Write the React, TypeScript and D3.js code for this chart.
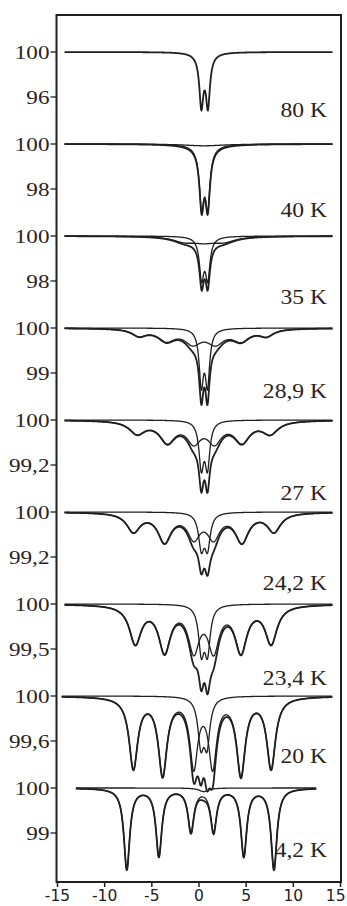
import React, { useRef, useEffect } from 'react';
import * as d3 from 'd3';

// one Mössbauer spectrum per temperature, top to bottom
const temperatures = ['80 K', '40 K', '35 K', '28,9 K', '27 K', '24,2 K', '23,4 K', '20 K', '4,2 K'];

// the lower labelled tick of each spectrum (the upper one is always 100)
const lowerTicks = [96, 98, 98, 99, 99.2, 99.2, 99.5, 99.6, 99];
const lowerTickLabels = ['96', '98', '98', '99', '99,2', '99,2', '99,5', '99,6', '99'];

// measured velocity range of each spectrum, mm/s
const velocityRanges: [number, number][] = [
  [-14.2, 14.2], [-14.2, 14.2], [-14.2, 14.2], [-14.2, 14.2], [-14.2, 14.2],
  [-14.2, 14.2], [-14.2, 14.2], [-14.5, 14.2], [-13, 12.5]
];

// paramagnetic doublet: [position mm/s, depth %, FWHM mm/s]
const doubletLines: [number, number, number][][] = [
  [[0.3, 4.3, 0.5], [1.0, 4.3, 0.5], [0.65, 0.5, 1.6]],
  [[0.33, 2.4, 0.55], [0.98, 2.4, 0.55], [0.65, 0.35, 1.6]],
  [[0.33, 1.7, 0.55], [0.98, 1.7, 0.55], [0.65, 0.15, 1.4]],
  [[0.3, 1.2, 0.55], [0.95, 1.2, 0.55]],
  [[0.3, 0.8, 0.6], [0.95, 0.8, 0.6]],
  [[0.3, 0.6, 0.7], [0.95, 0.6, 0.7]],
  [[0.3, 0.5, 0.7], [0.95, 0.5, 0.7]],
  [[0.25, 0.4, 0.75], [0.9, 0.4, 0.75]],
  [[0.55, 0.08, 1.2]]
];

// magnetic (relaxation / sextet) part: [position mm/s, depth %, FWHM mm/s]
const magneticLines: [number, number, number][][] = [
  [],
  [[0.6, 0.08, 5]],
  [[-1.5, 0.22, 3], [0.6, 0.2, 3], [2.7, 0.22, 3]],
  [[-6.3, 0.15, 1.8], [-3.4, 0.25, 2.2], [-0.6, 0.3, 2.2], [1.8, 0.3, 2.2], [4.5, 0.25, 2.2], [7.2, 0.15, 1.8]],
  [[-6.5, 0.22, 2.0], [-3.3, 0.36, 2.0], [-0.5, 0.35, 1.8], [1.7, 0.35, 1.8], [4.6, 0.36, 2.0], [7.6, 0.22, 2.0]],
  [[-6.9, 0.33, 1.7], [-3.6, 0.5, 1.7], [-0.5, 0.42, 1.6], [1.6, 0.42, 1.6], [4.6, 0.5, 1.7], [8.0, 0.33, 1.7]],
  [[-6.7, 0.42, 1.5], [-3.6, 0.5, 1.5], [-0.5, 0.48, 1.4], [1.6, 0.48, 1.4], [4.5, 0.5, 1.5], [7.7, 0.42, 1.5]],
  [[-6.9, 0.63, 1.1], [-3.8, 0.68, 1.1], [-0.5, 0.6, 1.0], [1.5, 0.6, 1.0], [4.5, 0.68, 1.1], [7.7, 0.63, 1.1]],
  [[-7.6, 1.8, 0.75], [-4.2, 1.5, 0.75], [-0.8, 0.95, 0.75], [1.6, 0.95, 0.75], [4.8, 1.5, 0.75], [8.0, 1.8, 0.75]]
];

const velocityTicks = [-15, -10, -5, 0, 5, 10, 15];

const width = 347;
const height = 906;
// how far each temperature label sits below its 100 line
const labelDrop = [65, 73, 68, 70, 80, 78, 81, 67, 69];

// sum of lorentzian absorption lines at velocity v
function absorption(lines: [number, number, number][], v: number) {
  return d3.sum(lines, ([c, a, w]) => a / (1 + ((v - c) / (w / 2)) ** 2));
}

export default function App() {
  const svgRef = useRef<SVGSVGElement>(null);

  useEffect(() => {
    const svg = d3.select(svgRef.current);
    svg.selectAll('*').remove();

    const frame = { left: 56.5, right: 341, top: 15, bottom: 882 };
    const ink = '#1f1f1f';
    const serif = '"Liberation Serif", "Times New Roman", serif';

    const x = d3.scaleLinear().domain([-15, 15]).range([57, 340]);
    const panelY = d3.scalePoint<string>().domain(temperatures).range([52, 788]);
    const tickGap = 45;

    const root = svg.attr('width', width).attr('height', height).append('g');

    temperatures.forEach((t, i) => {
      const y0 = panelY(t) as number;
      const y = d3.scaleLinear().domain([100, lowerTicks[i]]).range([y0, y0 + tickGap]);
      const [vMin, vMax] = velocityRanges[i];
      const vs = d3.range(vMin, vMax + 0.001, 0.04);

      const line = d3.line<number>()
        .x(v => x(v))
        .y(v => y(v));

      const dbl = doubletLines[i];
      const mag = magneticLines[i];
      const curves: { f: (v: number) => number; w: number }[] = [];
      if (mag.length) {
        curves.push({ f: v => 100 - absorption(mag, v), w: 1.3 });
        curves.push({ f: v => 100 - absorption(dbl, v), w: 1.3 });
      }
      curves.push({ f: v => 100 - absorption(dbl, v) - absorption(mag, v), w: 1.8 });

      const g = root.append('g');
      curves.forEach(c => {
        g.append('path')
          .attr('d', line.y(v => y(c.f(v)))(vs))
          .attr('fill', 'none')
          .attr('stroke', ink)
          .attr('stroke-width', c.w)
          .attr('stroke-linejoin', 'round');
      });

      // y ticks of this spectrum
      const yt = [100, lowerTicks[i]];
      const labels = ['100', lowerTickLabels[i]];
      yt.forEach((val, k) => {
        root.append('line')
          .attr('x1', frame.left - 6).attr('x2', frame.left)
          .attr('y1', y(val)).attr('y2', y(val))
          .attr('stroke', ink).attr('stroke-width', 1.3);
        root.append('text')
          .attr('transform', `translate(${frame.left - 7},${y(val)}) scale(1.22,1)`)
          .attr('text-anchor', 'end')
          .attr('dy', '0.35em')
          .attr('font-family', serif)
          .attr('font-size', 19)
          .attr('fill', '#2a231c')
          .text(labels[k]);
      });

      root.append('text')
        .attr('transform', `translate(327,${y0 + labelDrop[i]}) scale(1.15,1)`)
        .attr('text-anchor', 'end')
        .attr('font-family', serif)
        .attr('font-size', 20.5)
        .attr('fill', '#2a231c')
        .text(t);
    });

    // frame
    root.append('rect')
      .attr('x', frame.left).attr('y', frame.top)
      .attr('width', frame.right - frame.left).attr('height', frame.bottom - frame.top)
      .attr('fill', 'none').attr('stroke', ink).attr('stroke-width', 2);

    // velocity axis
    const xAxis = d3.axisBottom(x)
      .tickValues(velocityTicks)
      .tickFormat(d => String(d))
      .tickSize(5).tickSizeOuter(0).tickPadding(3);
    const ax = root.append('g').attr('transform', `translate(0,${frame.bottom})`).call(xAxis);
    ax.select('.domain').remove();
    ax.selectAll('line').attr('stroke', ink).attr('stroke-width', 1.5);
    ax.selectAll('text')
      .attr('font-family', '"DejaVu Sans", sans-serif')
      .attr('font-size', 15.5)
      .attr('font-weight', 500)
      .attr('fill', '#222');
    // keep the outermost label inside the page
    ax.selectAll<SVGTextElement, number>('text')
      .filter(d => d === 15)
      .attr('text-anchor', 'end')
      .attr('dx', 5);
  }, []);

  return (
    <div style={{ position: 'absolute', left: 0, top: 0, background: '#fff' }}>
      <svg ref={svgRef} />
    </div>
  );
}
